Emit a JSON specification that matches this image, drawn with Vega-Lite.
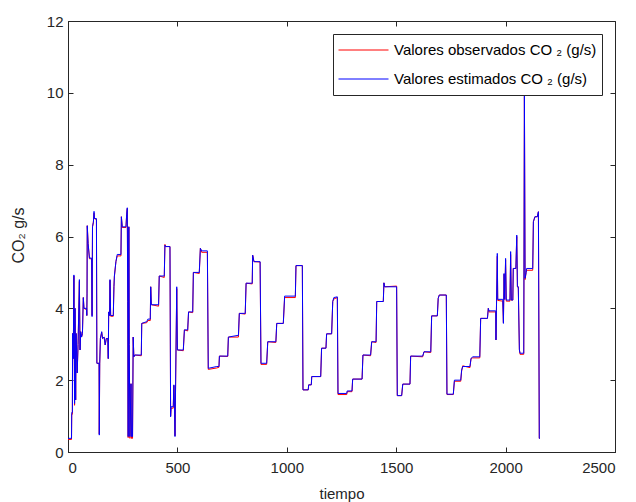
{
  "$schema": "https://vega.github.io/schema/vega-lite/v6.json",
  "width": 547,
  "height": 431,
  "autosize": "none",
  "padding": {"left": 68, "top": 21, "right": 21, "bottom": 50},
  "background": "white",
  "config": {
    "font": "Liberation Sans",
    "view": {"stroke": "#262626", "strokeWidth": 1},
    "axis": {
      "grid": false,
      "domainColor": "#262626",
      "tickColor": "#262626",
      "labelColor": "#262626",
      "titleColor": "#262626",
      "labelFontSize": 15,
      "titleFontSize": 15,
      "titleFontWeight": "normal",
      "tickSize": -5,
      "format": "d"
    }
  },
  "data": {
    "values": [
      {"t": 0, "est": 0.38, "obs": 0.35},
      {"t": 16, "est": 0.38, "obs": 0.35},
      {"t": 17, "est": 1.1, "obs": 1.05},
      {"t": 20, "est": 1.1, "obs": 1.05},
      {"t": 21, "est": 3.3, "obs": 3.3},
      {"t": 24, "est": 2.6, "obs": 2.6},
      {"t": 27, "est": 4.93, "obs": 4.9},
      {"t": 30, "est": 1.35, "obs": 1.3},
      {"t": 32, "est": 4.0, "obs": 4.0},
      {"t": 35, "est": 1.45, "obs": 1.45},
      {"t": 37, "est": 3.3, "obs": 3.3},
      {"t": 42, "est": 2.2, "obs": 2.2},
      {"t": 46, "est": 3.0, "obs": 3.0},
      {"t": 52, "est": 4.8, "obs": 4.75},
      {"t": 55, "est": 2.84, "obs": 2.84},
      {"t": 58, "est": 3.35, "obs": 3.35},
      {"t": 62, "est": 3.2, "obs": 3.2},
      {"t": 66, "est": 3.3, "obs": 3.3},
      {"t": 70, "est": 4.3, "obs": 4.3},
      {"t": 73, "est": 4.0, "obs": 4.0},
      {"t": 85, "est": 4.0, "obs": 3.96},
      {"t": 86, "est": 3.8, "obs": 3.8},
      {"t": 87, "est": 4.4, "obs": 4.4},
      {"t": 88, "est": 6.3, "obs": 6.3},
      {"t": 92, "est": 5.8, "obs": 5.8},
      {"t": 98, "est": 5.4, "obs": 5.38},
      {"t": 108, "est": 5.4, "obs": 5.38},
      {"t": 110, "est": 3.77, "obs": 3.8},
      {"t": 112, "est": 6.27, "obs": 6.27},
      {"t": 116, "est": 6.4, "obs": 6.4},
      {"t": 119, "est": 6.7, "obs": 6.65},
      {"t": 121, "est": 6.5, "obs": 6.5},
      {"t": 130, "est": 6.5, "obs": 6.47},
      {"t": 132, "est": 2.47, "obs": 2.47},
      {"t": 142, "est": 2.47, "obs": 2.47},
      {"t": 143, "est": 0.47, "obs": 0.5},
      {"t": 145, "est": 2.47, "obs": 2.47},
      {"t": 148, "est": 3.16, "obs": 3.16},
      {"t": 154, "est": 3.35, "obs": 3.33},
      {"t": 158, "est": 3.16, "obs": 3.16},
      {"t": 165, "est": 3.2, "obs": 3.2},
      {"t": 170, "est": 2.98, "obs": 2.98},
      {"t": 175, "est": 3.16, "obs": 3.16},
      {"t": 182, "est": 3.16, "obs": 3.16},
      {"t": 184, "est": 2.6, "obs": 2.6},
      {"t": 186, "est": 3.9, "obs": 3.9},
      {"t": 190, "est": 3.8, "obs": 3.8},
      {"t": 192, "est": 4.8, "obs": 4.78},
      {"t": 195, "est": 3.8, "obs": 3.78},
      {"t": 207, "est": 3.8, "obs": 3.78},
      {"t": 210, "est": 4.6, "obs": 4.6},
      {"t": 212, "est": 4.9, "obs": 4.88},
      {"t": 219, "est": 5.3, "obs": 5.3},
      {"t": 225, "est": 5.5, "obs": 5.46},
      {"t": 242, "est": 5.5, "obs": 5.46},
      {"t": 244, "est": 6.55, "obs": 6.55},
      {"t": 248, "est": 6.27, "obs": 6.25},
      {"t": 265, "est": 6.27, "obs": 6.25},
      {"t": 268, "est": 6.6, "obs": 6.6},
      {"t": 271, "est": 6.8, "obs": 6.78},
      {"t": 273, "est": 4.2, "obs": 4.2},
      {"t": 275, "est": 0.43, "obs": 0.4},
      {"t": 278, "est": 6.27, "obs": 6.27},
      {"t": 280, "est": 3.0, "obs": 3.0},
      {"t": 283, "est": 0.43, "obs": 0.38},
      {"t": 288, "est": 1.9, "obs": 1.9},
      {"t": 290, "est": 0.43, "obs": 0.38},
      {"t": 295, "est": 0.43, "obs": 0.38},
      {"t": 298, "est": 3.2, "obs": 3.2},
      {"t": 301, "est": 2.65, "obs": 2.65},
      {"t": 305, "est": 2.7, "obs": 2.7},
      {"t": 335, "est": 2.7, "obs": 2.68},
      {"t": 337, "est": 3.58, "obs": 3.58},
      {"t": 360, "est": 3.63, "obs": 3.6},
      {"t": 365, "est": 3.7, "obs": 3.66},
      {"t": 376, "est": 3.7, "obs": 3.66},
      {"t": 378, "est": 4.6, "obs": 4.6},
      {"t": 381, "est": 4.1, "obs": 4.1},
      {"t": 414, "est": 4.1, "obs": 4.06},
      {"t": 417, "est": 4.9, "obs": 4.9},
      {"t": 440, "est": 4.9, "obs": 4.86},
      {"t": 443, "est": 5.76, "obs": 5.78},
      {"t": 446, "est": 5.72, "obs": 5.72},
      {"t": 466, "est": 5.72, "obs": 5.72},
      {"t": 469, "est": 0.98, "obs": 1.0},
      {"t": 471, "est": 1.26, "obs": 1.22},
      {"t": 481, "est": 1.26, "obs": 1.22},
      {"t": 484, "est": 1.87, "obs": 1.85},
      {"t": 487, "est": 1.2, "obs": 1.2},
      {"t": 489, "est": 0.43, "obs": 0.45},
      {"t": 497, "est": 4.6, "obs": 4.55},
      {"t": 500, "est": 2.84, "obs": 2.84},
      {"t": 527, "est": 2.84, "obs": 2.82},
      {"t": 532, "est": 3.4, "obs": 3.4},
      {"t": 547, "est": 3.4, "obs": 3.37},
      {"t": 551, "est": 3.9, "obs": 3.9},
      {"t": 570, "est": 3.9, "obs": 3.88},
      {"t": 573, "est": 5.0, "obs": 5.0},
      {"t": 600, "est": 5.0, "obs": 4.97},
      {"t": 605, "est": 5.67, "obs": 5.67},
      {"t": 611, "est": 5.6, "obs": 5.56},
      {"t": 637, "est": 5.6, "obs": 5.56},
      {"t": 641, "est": 2.33, "obs": 2.3},
      {"t": 680, "est": 2.38, "obs": 2.34},
      {"t": 690, "est": 2.38, "obs": 2.36},
      {"t": 692, "est": 2.67, "obs": 2.67},
      {"t": 730, "est": 2.67, "obs": 2.66},
      {"t": 733, "est": 3.2, "obs": 3.2},
      {"t": 779, "est": 3.25, "obs": 3.2},
      {"t": 783, "est": 3.86, "obs": 3.86},
      {"t": 810, "est": 3.86, "obs": 3.84},
      {"t": 814, "est": 4.7, "obs": 4.7},
      {"t": 842, "est": 4.7, "obs": 4.68},
      {"t": 844, "est": 5.48, "obs": 5.48},
      {"t": 850, "est": 5.3, "obs": 5.3},
      {"t": 878, "est": 5.3, "obs": 5.29},
      {"t": 882, "est": 2.47, "obs": 2.44},
      {"t": 908, "est": 2.47, "obs": 2.44},
      {"t": 913, "est": 3.07, "obs": 3.07},
      {"t": 950, "est": 3.07, "obs": 3.05},
      {"t": 954, "est": 3.58, "obs": 3.58},
      {"t": 984, "est": 3.58, "obs": 3.58},
      {"t": 990, "est": 4.34, "obs": 4.3},
      {"t": 1039, "est": 4.34, "obs": 4.3},
      {"t": 1042, "est": 5.19, "obs": 5.19},
      {"t": 1071, "est": 5.19, "obs": 5.19},
      {"t": 1074, "est": 1.73, "obs": 1.73},
      {"t": 1098, "est": 1.73, "obs": 1.73},
      {"t": 1100, "est": 1.87, "obs": 1.87},
      {"t": 1112, "est": 1.87, "obs": 1.87},
      {"t": 1114, "est": 2.1, "obs": 2.1},
      {"t": 1155, "est": 2.1, "obs": 2.1},
      {"t": 1159, "est": 2.89, "obs": 2.89},
      {"t": 1179, "est": 2.89, "obs": 2.89},
      {"t": 1182, "est": 3.29, "obs": 3.29},
      {"t": 1205, "est": 3.29, "obs": 3.29},
      {"t": 1210, "est": 4.19, "obs": 4.19},
      {"t": 1215, "est": 4.3, "obs": 4.26},
      {"t": 1231, "est": 4.32, "obs": 4.3},
      {"t": 1234, "est": 1.63, "obs": 1.6},
      {"t": 1274, "est": 1.63, "obs": 1.6},
      {"t": 1276, "est": 1.7, "obs": 1.68},
      {"t": 1298, "est": 1.7, "obs": 1.68},
      {"t": 1301, "est": 2.03, "obs": 2.03},
      {"t": 1344, "est": 2.03, "obs": 2.03},
      {"t": 1348, "est": 2.7, "obs": 2.7},
      {"t": 1383, "est": 2.7, "obs": 2.68},
      {"t": 1388, "est": 3.07, "obs": 3.07},
      {"t": 1408, "est": 3.07, "obs": 3.05},
      {"t": 1411, "est": 4.19, "obs": 4.19},
      {"t": 1441, "est": 4.19, "obs": 4.19},
      {"t": 1444, "est": 4.71, "obs": 4.71},
      {"t": 1447, "est": 4.6, "obs": 4.6},
      {"t": 1502, "est": 4.6, "obs": 4.62},
      {"t": 1505, "est": 1.57, "obs": 1.57},
      {"t": 1525, "est": 1.57, "obs": 1.57},
      {"t": 1530, "est": 1.89, "obs": 1.89},
      {"t": 1563, "est": 1.89, "obs": 1.89},
      {"t": 1566, "est": 2.67, "obs": 2.67},
      {"t": 1621, "est": 2.67, "obs": 2.65},
      {"t": 1627, "est": 2.79, "obs": 2.79},
      {"t": 1658, "est": 2.79, "obs": 2.77},
      {"t": 1662, "est": 3.79, "obs": 3.79},
      {"t": 1688, "est": 3.79, "obs": 3.79},
      {"t": 1692, "est": 4.28, "obs": 4.28},
      {"t": 1697, "est": 4.37, "obs": 4.37},
      {"t": 1729, "est": 4.37, "obs": 4.37},
      {"t": 1732, "est": 1.61, "obs": 1.6},
      {"t": 1761, "est": 1.61, "obs": 1.6},
      {"t": 1766, "est": 2.0, "obs": 1.97},
      {"t": 1795, "est": 2.0, "obs": 1.97},
      {"t": 1799, "est": 2.28, "obs": 2.25},
      {"t": 1804, "est": 2.38, "obs": 2.4},
      {"t": 1837, "est": 2.38, "obs": 2.35},
      {"t": 1842, "est": 2.6, "obs": 2.6},
      {"t": 1849, "est": 2.65, "obs": 2.62},
      {"t": 1882, "est": 2.65, "obs": 2.62},
      {"t": 1886, "est": 3.72, "obs": 3.72},
      {"t": 1917, "est": 3.72, "obs": 3.72},
      {"t": 1921, "est": 4.0, "obs": 4.0},
      {"t": 1924, "est": 3.93, "obs": 3.9},
      {"t": 1955, "est": 3.93, "obs": 3.9},
      {"t": 1956, "est": 3.12, "obs": 3.12},
      {"t": 1958, "est": 3.93, "obs": 3.93},
      {"t": 1962, "est": 5.53, "obs": 5.45},
      {"t": 1964, "est": 4.25, "obs": 4.22},
      {"t": 1987, "est": 4.25, "obs": 4.2},
      {"t": 1990, "est": 3.58, "obs": 3.6},
      {"t": 1993, "est": 4.97, "obs": 4.95},
      {"t": 1996, "est": 4.25, "obs": 4.25},
      {"t": 2000, "est": 5.39, "obs": 5.35},
      {"t": 2003, "est": 4.23, "obs": 4.2},
      {"t": 2020, "est": 4.23, "obs": 4.2},
      {"t": 2023, "est": 5.58, "obs": 5.5},
      {"t": 2026, "est": 4.23, "obs": 4.23},
      {"t": 2033, "est": 4.23, "obs": 4.23},
      {"t": 2035, "est": 5.11, "obs": 5.11},
      {"t": 2047, "est": 5.11, "obs": 5.11},
      {"t": 2051, "est": 6.04, "obs": 6.0},
      {"t": 2054, "est": 4.6, "obs": 4.6},
      {"t": 2058, "est": 4.6, "obs": 4.6},
      {"t": 2063, "est": 2.84, "obs": 2.86},
      {"t": 2066, "est": 2.75, "obs": 2.72},
      {"t": 2083, "est": 2.75, "obs": 2.72},
      {"t": 2086, "est": 10.0, "obs": 9.9},
      {"t": 2089, "est": 4.84, "obs": 4.8},
      {"t": 2094, "est": 5.0, "obs": 5.0},
      {"t": 2096, "est": 5.11, "obs": 5.06},
      {"t": 2124, "est": 5.11, "obs": 5.06},
      {"t": 2127, "est": 6.41, "obs": 6.41},
      {"t": 2134, "est": 6.55, "obs": 6.55},
      {"t": 2145, "est": 6.55, "obs": 6.55},
      {"t": 2150, "est": 6.69, "obs": 6.69},
      {"t": 2154, "est": 0.38, "obs": 0.38},
      {"t": 2157, "est": 0.38, "obs": 0.38}
    ]
  },
  "layer": [
    {
      "mark": {"type": "line", "strokeWidth": 1},
      "encoding": {
        "x": {
          "field": "t",
          "type": "quantitative",
          "scale": {"domain": [0, 2500], "nice": false, "zero": false},
          "axis": {
            "orient": "bottom",
            "values": [0, 500, 1000, 1500, 2000, 2500],
            "labelPadding": 13,
            "title": "tiempo",
            "titleY": 46,
            "titleBaseline": "alphabetic"
          }
        },
        "y": {
          "field": "obs",
          "type": "quantitative",
          "scale": {"domain": [0, 12], "nice": false},
          "axis": {
            "orient": "left",
            "values": [0, 2, 4, 6, 8, 10, 12],
            "labelPadding": 10,
            "title": "CO₂ g/s",
            "titleFontSize": 16,
            "titleX": -45,
            "titleY": 214,
            "titleBaseline": "alphabetic",
            "titleAlign": "center"
          }
        },
        "color": {
          "datum": "Valores observados CO ₂ (g/s)",
          "type": "nominal",
          "scale": {
            "domain": ["Valores observados CO ₂ (g/s)", "Valores estimados CO ₂ (g/s)"],
            "range": ["#ff0000", "#0000ff"]
          },
          "legend": {
            "title": null,
            "orient": "none",
            "legendX": 265,
            "legendY": 13,
            "symbolType": "stroke",
            "symbolSize": 2500,
            "symbolStrokeWidth": 1,
            "clipHeight": 22,
            "labelFontSize": 15,
            "labelLimit": 0,
            "labelColor": "#000000",
            "labelOffset": 5,
            "strokeColor": "#262626",
            "fillColor": "white",
            "padding": 5,
            "rowPadding": 7
          }
        }
      }
    },
    {
      "mark": {"type": "line", "strokeWidth": 1},
      "encoding": {
        "x": {
          "field": "t",
          "type": "quantitative",
          "axis": {"orient": "top", "values": [0, 500, 1000, 1500, 2000, 2500], "labels": false, "title": null, "domain": false}
        },
        "y": {
          "field": "est",
          "type": "quantitative",
          "axis": {"orient": "right", "values": [0, 2, 4, 6, 8, 10, 12], "labels": false, "title": null, "domain": false}
        },
        "color": {"datum": "Valores estimados CO ₂ (g/s)", "type": "nominal"}
      }
    }
  ],
  "resolve": {"axis": {"x": "independent", "y": "independent"}}
}
